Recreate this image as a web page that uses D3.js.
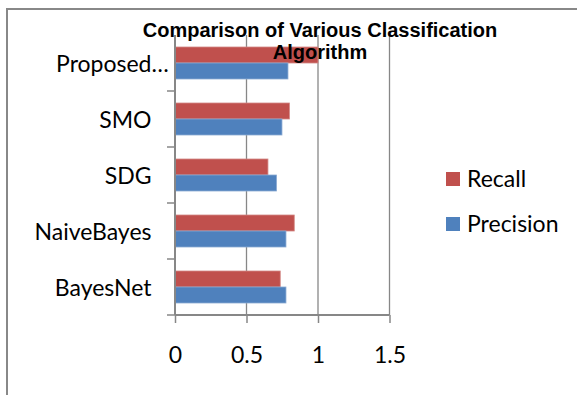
<!DOCTYPE html>
<html>
<head>
<meta charset="utf-8">
<script src="https://cdn.jsdelivr.net/npm/d3@7"></script>
<style>
  html, body { margin: 0; padding: 0; background: #fff; }
  svg { display: block; }
</style>
</head>
<body>
<svg id="chart" width="577" height="395"></svg>
<script>
// ---- data ----
const categories = ["Proposed…", "SMO", "SDG", "NaiveBayes", "BayesNet"];
const seriesNames = ["Recall", "Precision"];
const recall = [1.0, 0.80, 0.65, 0.834, 0.736];
const precision = [0.79, 0.748, 0.71, 0.776, 0.776];
const xTicks = [0, 0.5, 1, 1.5];
const titleLines = ["Comparison of Various Classification", "Algorithm"];

const colors = { Recall: "#C0504D", Precision: "#4F81BD" };
const strokeColors = { Recall: "#D38886", Precision: "#8AAAD3" };
const labelFont = "Lato, 'Open Sans', sans-serif";
const gridColor = "#878787";

const svg = d3.select("#chart");

// outer frame (only left & top edges visible in picture)
svg.append("rect")
  .attr("x", 7).attr("y", 9).attr("width", 620).attr("height", 420)
  .attr("fill", "#fff").attr("stroke", "#888").attr("stroke-width", 2);

const x = d3.scaleLinear().domain([0, 1.5]).range([175, 389.5]);
const y = d3.scaleBand().domain(categories).range([35, 315]).padding(0);
const ySub = d3.scaleBand().domain(seriesNames).range([12, 44]).padding(0);

// gridlines
svg.append("g").selectAll("line")
  .data(xTicks.filter(d => d > 0))
  .join("line")
  .attr("x1", d => x(d)).attr("x2", d => x(d))
  .attr("y1", 35).attr("y2", 315)
  .attr("stroke", gridColor).attr("stroke-width", 1.3);

// bars
const rows = categories.map((c, i) => ({ cat: c, Recall: recall[i], Precision: precision[i] }));
const groups = svg.append("g").selectAll("g")
  .data(rows).join("g")
  .attr("transform", d => `translate(0,${y(d.cat)})`);
groups.selectAll("rect")
  .data(d => seriesNames.map(s => ({ s, v: d[s] })))
  .join("rect")
  .attr("x", x(0))
  .attr("y", d => ySub(d.s))
  .attr("width", d => x(d.v) - x(0))
  .attr("height", ySub.bandwidth())
  .attr("fill", d => colors[d.s])
  .attr("stroke", d => strokeColors[d.s])
  .attr("stroke-width", 0.8);

// x axis
const xAxis = d3.axisBottom(x).tickValues(xTicks).tickSize(8).tickFormat(d3.format("~g"));
const gx = svg.append("g").attr("transform", "translate(0,315)").call(xAxis);
gx.select(".domain").attr("stroke", gridColor).attr("stroke-width", 2)
  .attr("d", `M${x(0)},0H${x(1.5)}`);
gx.selectAll(".tick line").attr("stroke", gridColor).attr("stroke-width", 1.5);
gx.selectAll(".tick text")
  .attr("y", 0).attr("dy", 0)
  .attr("transform", "translate(0,47.5)")
  .attr("font-family", labelFont).attr("font-size", 23).attr("fill", "#000");

// y axis line + ticks at band boundaries
svg.append("line")
  .attr("x1", x(0)).attr("x2", x(0)).attr("y1", 35).attr("y2", 315)
  .attr("stroke", gridColor).attr("stroke-width", 2);
svg.append("g").selectAll("line")
  .data(categories.slice(1).map(c => y(c)).concat([315]))
  .join("line")
  .attr("x1", x(0) - 8).attr("x2", x(0))
  .attr("y1", d => d).attr("y2", d => d)
  .attr("stroke", gridColor).attr("stroke-width", 1.5);

// category labels (right aligned; ellipsis overhangs like the original)
const labG = svg.append("g").attr("font-family", labelFont).attr("font-size", 23).attr("fill", "#000");
categories.forEach(c => {
  const cy = y(c) + y.bandwidth() / 2 + 8.5;
  const trunc = c.endsWith("…");
  const main = trunc ? c.slice(0, -1) : c;
  labG.append("text").attr("x", 151.5).attr("y", cy).attr("text-anchor", "end").text(main);
  if (trunc) labG.append("text").attr("x", 151.5).attr("y", cy).attr("text-anchor", "start").text("…");
});

// legend (Recall first, then Precision)
const legend = svg.append("g").attr("font-family", labelFont).attr("font-size", 23);
seriesNames.forEach((s, i) => {
  const ly = 172 + i * 45;
  legend.append("rect").attr("x", 446).attr("y", ly).attr("width", 14).attr("height", 14).attr("fill", colors[s]);
  legend.append("text").attr("x", 467).attr("y", ly + 15).attr("fill", "#000").text(s);
});

// title (drawn on top)
const title = svg.append("g")
  .attr("font-family", "'Liberation Sans', Arial, sans-serif")
  .attr("font-weight", "bold").attr("font-size", 20).attr("fill", "#000")
  .attr("text-anchor", "middle");
titleLines.forEach((t, i) => {
  title.append("text").attr("x", 320).attr("y", 36.7 + i * 22.6).text(t);
});
</script>
</body>
</html>
